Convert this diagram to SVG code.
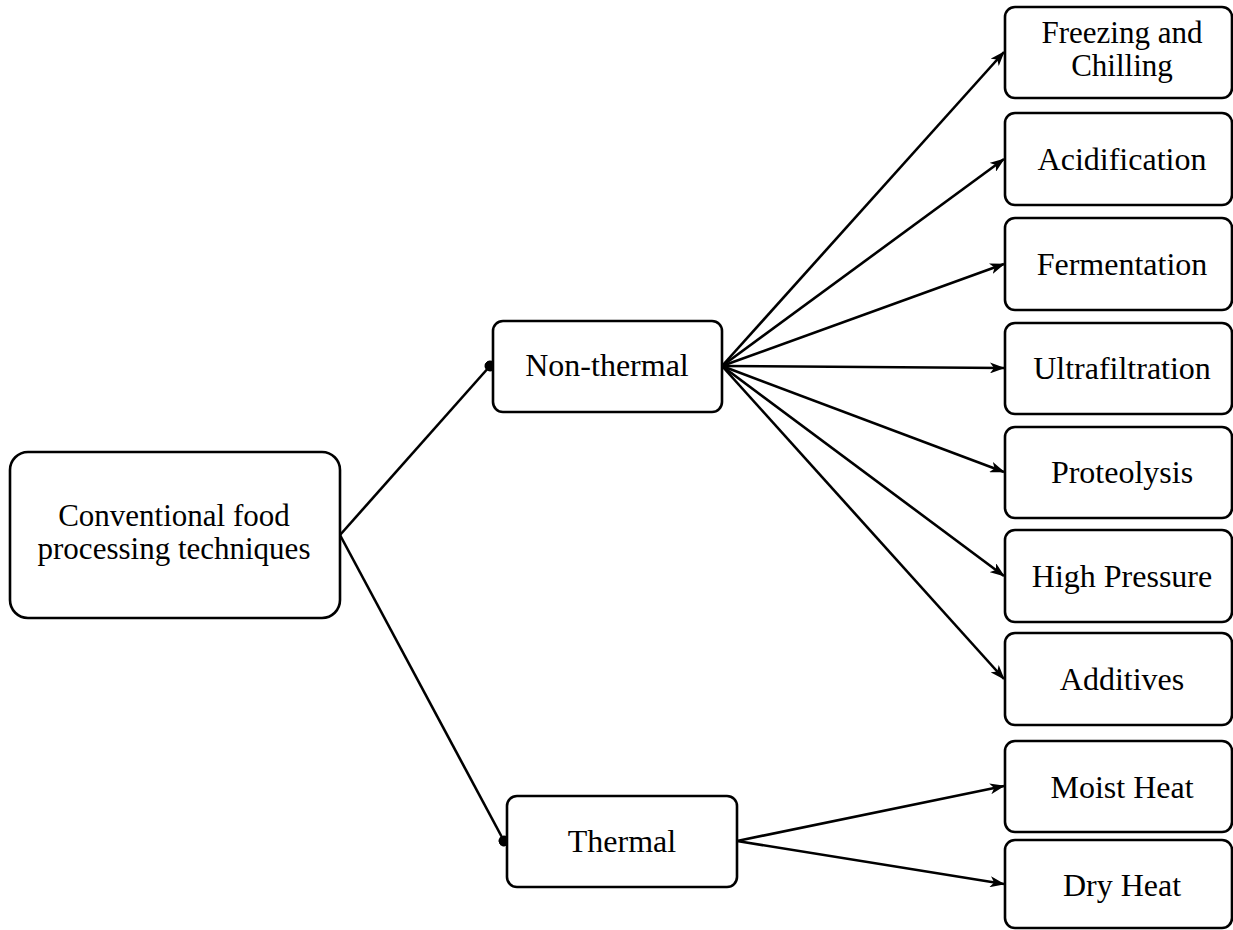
<svg xmlns="http://www.w3.org/2000/svg" width="1233" height="930" viewBox="0 0 1233 930">
<style>
.box{fill:#fff;stroke:#000;stroke-width:2.6}
.t{font-family:"Liberation Serif","Times New Roman",serif;font-size:32px;fill:#000;text-anchor:middle}
.t2{font-size:31px}
.c{fill:none;stroke:#000;stroke-width:2.6}
</style>
<defs>
<marker id="arr" viewBox="0 0 15 11" refX="14" refY="5.5" markerWidth="15" markerHeight="11" orient="auto" markerUnits="userSpaceOnUse"><path d="M0,0 L15,5.5 L0,11 L4,5.5 z" fill="#000"/></marker>
<marker id="dot" viewBox="0 0 11 11" refX="5.5" refY="5.5" markerWidth="11" markerHeight="11" orient="auto" markerUnits="userSpaceOnUse"><circle cx="5.5" cy="5.5" r="5.5" fill="#000"/></marker>
</defs>
<rect width="1233" height="930" fill="#fff"/>
<g id="connectors">
<path class="c" d="M340,535 L490,366" marker-end="url(#dot)"/>
<path class="c" d="M340,535 L504,841" marker-end="url(#dot)"/>
<path class="c" d="M722,366 L1004,52" marker-end="url(#arr)"/>
<path class="c" d="M722,366 L1004,159" marker-end="url(#arr)"/>
<path class="c" d="M722,366 L1004,264" marker-end="url(#arr)"/>
<path class="c" d="M722,366 L1004,368" marker-end="url(#arr)"/>
<path class="c" d="M722,366 L1004,472" marker-end="url(#arr)"/>
<path class="c" d="M722,366 L1004,576" marker-end="url(#arr)"/>
<path class="c" d="M722,366 L1004,679" marker-end="url(#arr)"/>
<path class="c" d="M737,841 L1004,786" marker-end="url(#arr)"/>
<path class="c" d="M737,841 L1004,884" marker-end="url(#arr)"/>
</g>
<g id="main"><rect class="box" x="10" y="452" width="330" height="166" rx="18"/><text class="t t2" x="174" y="526">Conventional food</text><text class="t t2" x="174" y="559">processing techniques</text></g>
<g id="nonthermal"><rect class="box" x="493" y="321" width="229" height="91" rx="10"/><text class="t" x="607" y="376">Non-thermal</text></g>
<g id="thermal"><rect class="box" x="507" y="796" width="230" height="91" rx="10"/><text class="t" x="622" y="852">Thermal</text></g>
<g id="freezing"><rect class="box" x="1005" y="7" width="227" height="91" rx="10"/><text class="t t2" x="1122" y="43">Freezing and</text><text class="t t2" x="1122" y="76">Chilling</text></g>
<g id="acidification"><rect class="box" x="1005" y="113" width="227" height="92" rx="10"/><text class="t" x="1122" y="170">Acidification</text></g>
<g id="fermentation"><rect class="box" x="1005" y="218" width="227" height="92" rx="10"/><text class="t" x="1122" y="275">Fermentation</text></g>
<g id="ultrafiltration"><rect class="box" x="1005" y="323" width="227" height="91" rx="10"/><text class="t" x="1122" y="379">Ultrafiltration</text></g>
<g id="proteolysis"><rect class="box" x="1005" y="427" width="227" height="91" rx="10"/><text class="t" x="1122" y="483">Proteolysis</text></g>
<g id="highpressure"><rect class="box" x="1005" y="530" width="227" height="92" rx="10"/><text class="t" x="1122" y="587">High Pressure</text></g>
<g id="additives"><rect class="box" x="1005" y="633" width="227" height="92" rx="10"/><text class="t" x="1122" y="690">Additives</text></g>
<g id="moistheat"><rect class="box" x="1005" y="741" width="227" height="91" rx="10"/><text class="t" x="1122" y="798">Moist Heat</text></g>
<g id="dryheat"><rect class="box" x="1005" y="840" width="227" height="88" rx="10"/><text class="t" x="1122" y="896">Dry Heat</text></g>
</svg>
